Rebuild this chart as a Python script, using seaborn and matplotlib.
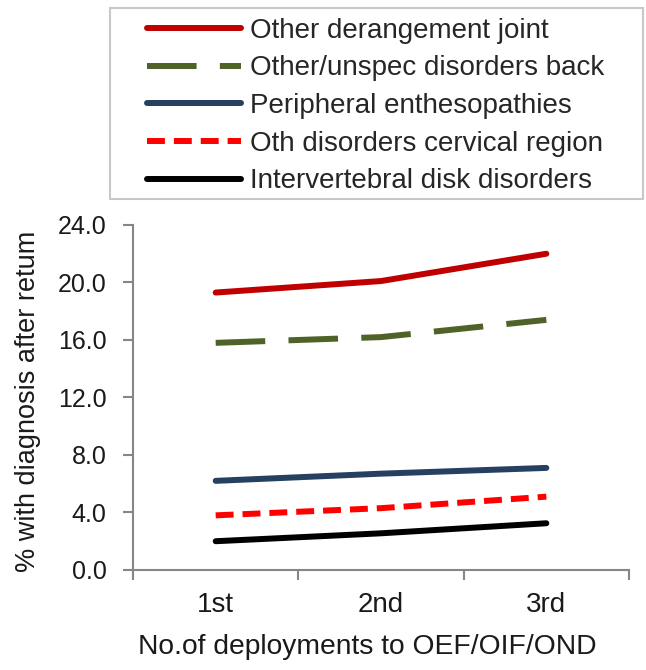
import numpy as np
import pandas as pd
import seaborn as sns
import matplotlib.pyplot as plt
from matplotlib.patches import Rectangle

# values (% with diagnosis after return)
deployments = ["1st", "2nd", "3rd"]
other_derangement_joint = [19.3, 20.1, 22.0]
other_unspec_back = [15.8, 16.2, 17.4]
peripheral_enthesopathies = [6.2, 6.7, 7.1]
oth_cervical_region = [3.8, 4.3, 5.1]
intervertebral_disk = [2.0, 2.55, 3.25]

series_names = [
    "Other derangement joint",
    "Other/unspec disorders back",
    "Peripheral enthesopathies",
    "Oth disorders cervical region",
    "Intervertebral disk disorders",
]
series_values = [
    other_derangement_joint,
    other_unspec_back,
    peripheral_enthesopathies,
    oth_cervical_region,
    intervertebral_disk,
]
y_ticks = [0, 4, 8, 12, 16, 20, 24]

colors = ["#C00000", "#4F6228", "#254061", "#FF0000", "#000000"]
dash_specs = ["", (8.3, 3.9), "", (3.0, 1.5), ""]


def main():
    sns.set_style("white")
    plt.rcParams["font.family"] = ["Liberation Sans", "DejaVu Sans"]

    fig = plt.figure(figsize=(6.46, 6.70), dpi=100)
    ax = fig.add_axes([0.2059, 0.1493, 0.7678, 0.5149])

    frames = []
    for name, values in zip(series_names, series_values):
        frames.append(pd.DataFrame({
            "deployment": np.arange(len(deployments)),
            "pct": values,
            "series": name,
        }))
    data = pd.concat(frames, ignore_index=True)

    sns.lineplot(data=data, x="deployment", y="pct", hue="series", style="series",
                 hue_order=series_names, style_order=series_names,
                 palette=dict(zip(series_names, colors)),
                 dashes=dict(zip(series_names, dash_specs)),
                 linewidth=4.3, errorbar=None, ax=ax)

    for line in ax.lines:
        line.set_solid_capstyle("round")

    # category axis: labels centred, tick marks between categories
    ax.set_xlim(-0.5, len(deployments) - 0.5)
    ax.set_xticks(np.arange(len(deployments)))
    ax.set_xticklabels(deployments)
    ax.set_xticks(np.arange(len(deployments) + 1) - 0.5, minor=True)
    ax.tick_params(axis="x", which="major", length=0, pad=16, labelsize=20, colors="#1a1a1a")
    ax.tick_params(axis="x", which="minor", length=7, width=1.5, color="#868686", direction="out")

    ax.set_ylim(0, 24)
    ax.set_yticks(y_ticks)
    ax.set_yticklabels([f"{v:.1f}" for v in y_ticks])
    ax.tick_params(axis="y", length=7, width=1.5, color="#868686", direction="out",
                   pad=12, labelsize=18, labelcolor="#1a1a1a")
    ax.yaxis.set_ticks_position("left")
    ax.xaxis.set_ticks_position("bottom")

    for side in ["top", "right"]:
        ax.spines[side].set_visible(False)
    for side in ["left", "bottom"]:
        ax.spines[side].set_color("#868686")
        ax.spines[side].set_linewidth(1.5)

    ax.set_xlabel("No.of deployments to OEF/OIF/OND", fontsize=20.3, color="#1a1a1a")
    ax.set_ylabel("% with diagnosis after retum", fontsize=19.5, color="#1a1a1a")
    ax.xaxis.set_label_coords(0.472, -0.185)
    ax.yaxis.set_label_coords(-0.185, 0.49)

    handles, labels = ax.get_legend_handles_labels()
    ax.get_legend().remove()
    for h in handles:
        h.set_linewidth(4.3)
        h.set_solid_capstyle("round")
    fig.legend(handles, labels, loc="upper left", bbox_to_anchor=(0.2276, 0.9736),
               frameon=False, fontsize=20, handlelength=3.4, handletextpad=0.3,
               labelspacing=0.42, borderpad=0, borderaxespad=0)
    fig.patches.append(Rectangle((110 / 646, 1 - 199 / 670), 533 / 646, 191 / 670,
                                 transform=fig.transFigure, fill=False,
                                 edgecolor="#C8C8C8", linewidth=1.5))

    plt.savefig("out.png", dpi=100)


if __name__ == '__main__':
    main()
